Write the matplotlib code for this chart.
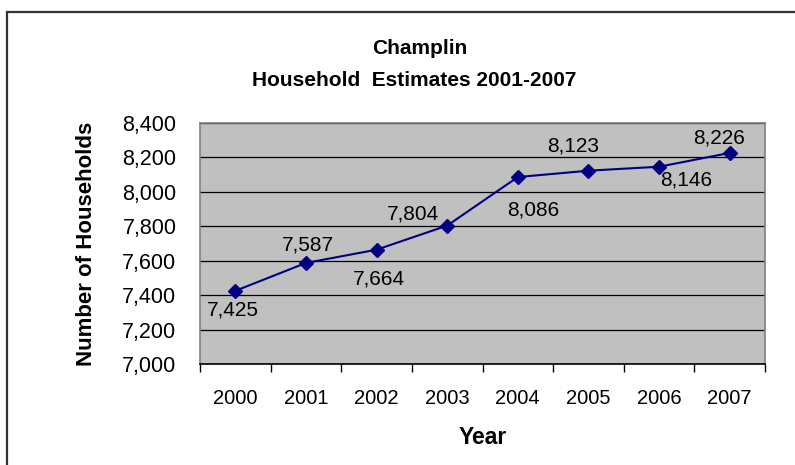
import numpy as np
import matplotlib
matplotlib.use("Agg")
from matplotlib import pyplot as plt
from matplotlib.patches import Rectangle
from matplotlib.ticker import FuncFormatter

years = ["2000", "2001", "2002", "2003", "2004", "2005", "2006", "2007"]
households = [7425, 7587, 7664, 7804, 8086, 8123, 8146, 8226]
y_ticks = [7000, 7200, 7400, 7600, 7800, 8000, 8200, 8400]

# where each value label sits relative to its point (pixels)
label_offsets = [(-2, -19), (2, 18), (2, -29), (-34, 12),
                 (15, -33), (-15, 25), (27, -13), (-11, 15)]

plt.rcParams['font.family'] = ['Liberation Sans', 'DejaVu Sans']

fig = plt.figure(figsize=(7.95, 4.65), dpi=100)
# outer chart border, only left and top edges fall inside the picture
fig.patches.append(Rectangle((7 / 795, -0.1), 1.0, 1.1 - 12 / 465,
                             transform=fig.transFigure, fill=False,
                             edgecolor="#333333", linewidth=1.6))

ax = fig.add_axes([200 / 795, 101 / 465, 565 / 795, 241 / 465])
ax.set_facecolor("#C0C0C0")
x = np.arange(len(years))
ax.plot(x, households, color="#000080", linewidth=1.5, marker="D",
        markersize=7, zorder=3)

for xi, v, (dx, dy) in zip(x, households, label_offsets):
    ax.annotate(f"{v:,}", (xi, v), xytext=(dx, dy), textcoords="offset pixels",
                ha="center", va="center", fontsize=15, color="black")

ax.set_xlim(-0.5, len(years) - 0.5)
ax.set_ylim(7000, 8400)
ax.set_yticks(y_ticks)
ax.yaxis.set_major_formatter(FuncFormatter(lambda v, p: f"{int(v):,}"))
ax.grid(axis="y", color="black", linewidth=0.9)
ax.set_axisbelow(True)
ax.tick_params(axis="y", length=0, labelsize=15.5, pad=17)

ax.set_xticks(x)
ax.set_xticklabels(years)
ax.set_xticks(np.arange(len(years) + 1) - 0.5, minor=True)
ax.tick_params(axis="x", which="major", length=0, labelsize=14.5, pad=18)
ax.tick_params(axis="x", which="minor", length=6, width=1, direction="out")

for side in ["left", "right", "top"]:
    ax.spines[side].set_color("#808080")
    ax.spines[side].set_linewidth(1.2)
ax.spines["bottom"].set_color("black")
ax.spines["bottom"].set_linewidth(1.2)

ax.set_xlabel("Year", fontsize=16.5, fontweight="bold", labelpad=13)
ax.set_ylabel("Number of Households", fontsize=16, fontweight="bold", labelpad=18)

fig.text(0.5 + 22 / 795, 1 - 49 / 465, "Champlin", ha="center", va="center",
         fontsize=15, fontweight="bold")
fig.text(0.5 + 17 / 795, 1 - 81 / 465, "Household  Estimates 2001-2007",
         ha="center", va="center", fontsize=15, fontweight="bold")

fig.savefig("out.png", dpi=100)
